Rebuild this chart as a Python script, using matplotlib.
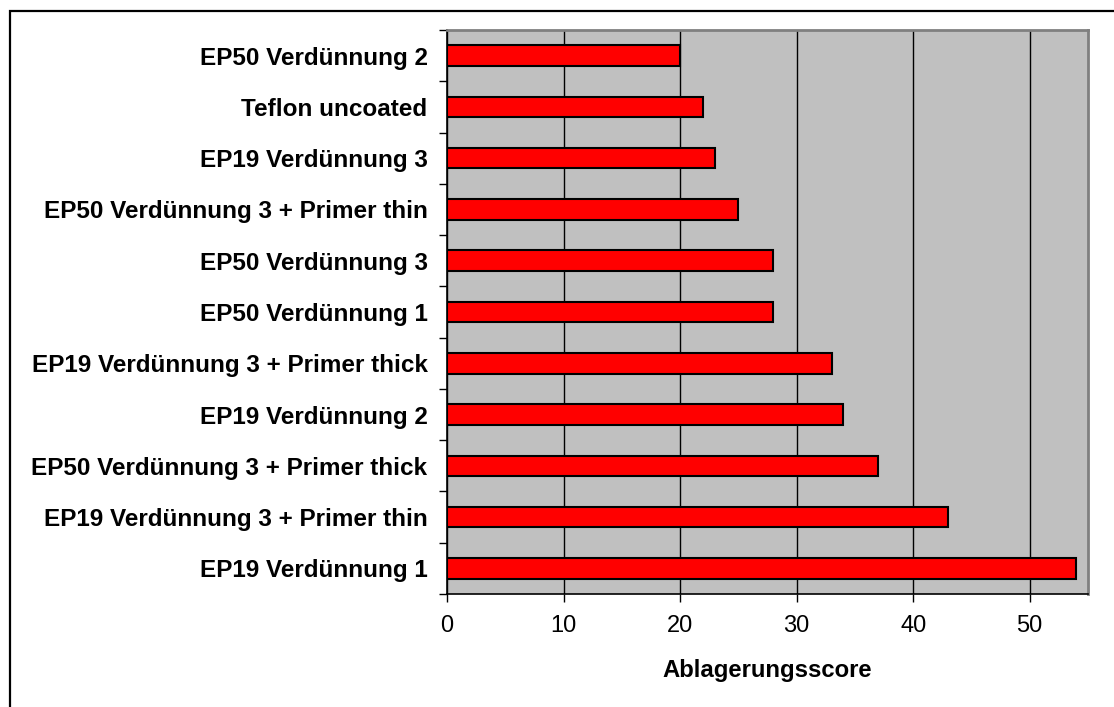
import matplotlib
matplotlib.use("Agg")
import matplotlib.pyplot as plt
from matplotlib.patches import Rectangle

# Scores per coating, bottom to top
labels = [
    "EP19 Verdünnung 1",
    "EP19 Verdünnung 3 + Primer thin",
    "EP50 Verdünnung 3 + Primer thick",
    "EP19 Verdünnung 2",
    "EP19 Verdünnung 3 + Primer thick",
    "EP50 Verdünnung 1",
    "EP50 Verdünnung 3",
    "EP50 Verdünnung 3 + Primer thin",
    "EP19 Verdünnung 3",
    "Teflon uncoated",
    "EP50 Verdünnung 2",
]
scores = [54, 43, 37, 34, 33, 28, 28, 25, 23, 22, 20]
xticks = [0, 10, 20, 30, 40, 50]

plt.rcParams["font.family"] = ["Liberation Sans", "DejaVu Sans"]

W, H = 1114, 707
fig = plt.figure(figsize=(W / 100, H / 100), dpi=100)
ax = fig.add_axes([447 / W, 1 - 594 / H, (1088 - 447) / W, (594 - 30) / H])

ax.set_facecolor("#C0C0C0")
ax.set_axisbelow(True)
ax.grid(axis="x", color="#000000", linewidth=1.0)

pos = list(range(len(labels)))
ax.barh(pos, scores, height=0.4, color="#FF0000", edgecolor="#000000", linewidth=1.5, zorder=3)

ax.set_xlim(0, 55)
ax.set_ylim(-0.5, len(labels) - 0.5)
ax.set_xticks(xticks)
ax.set_xticklabels([str(t) for t in xticks], fontsize=17)
ax.tick_params(axis="x", direction="out", length=6, width=1, pad=9, colors="black")

ax.set_yticks(pos)
ax.set_yticklabels(labels, fontsize=17.5, fontweight="bold")
ax.set_yticks([p - 0.5 for p in pos] + [len(labels) - 0.5], minor=True)
ax.tick_params(axis="y", which="major", length=0, pad=14)
ax.tick_params(axis="y", which="minor", direction="out", length=6, width=1, colors="black")

for side in ("left", "bottom"):
    ax.spines[side].set_color("#000000")
    ax.spines[side].set_linewidth(1.2)
for side in ("top", "right"):
    ax.spines[side].set_color("#808080")
    ax.spines[side].set_linewidth(2)

ax.set_xlabel("Ablagerungsscore", fontsize=17.2, fontweight="bold", labelpad=16)

# outer chart frame
fig.add_artist(Rectangle((10 / W, -0.1), 1.2, 1 - 11 / H + 0.1, transform=fig.transFigure,
                         fill=False, edgecolor="#000000", linewidth=1.6, clip_on=False))

fig.savefig("out.png", dpi=100)
